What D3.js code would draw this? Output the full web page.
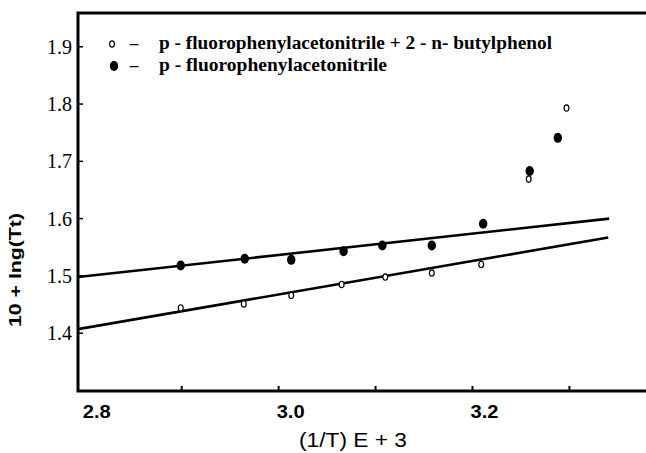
<!DOCTYPE HTML>
<html>
<head>
<meta charset="utf-8">
<title>lng(Tt) vs 1/T</title>
<script src="https://d3js.org/d3.v7.min.js"></script>
<style>
  body { margin: 0; background: #ffffff; }
</style>
</head>

<body>
<script>

"use strict";

// p-fluorophenylacetonitrile (filled)
const pureX = [2.899, 2.965, 3.013, 3.067, 3.107, 3.158, 3.211, 3.259, 3.288];
const pureY = [1.518, 1.530, 1.528, 1.543, 1.553, 1.553, 1.591, 1.683, 1.741];

// p-fluorophenylacetonitrile + 2-n-butylphenol (open)
const mixX = [2.899, 2.964, 3.013, 3.065, 3.110, 3.158, 3.209, 3.258, 3.297];
const mixY = [1.444, 1.451, 1.466, 1.485, 1.498, 1.505, 1.520, 1.669, 1.793];

// fitted lines, end points [x, y]
const pureFit = [[2.793, 1.498], [3.341, 1.600]];
const mixFit = [[2.793, 1.407], [3.340, 1.567]];

const xTicks = [2.8, 2.9, 3.0, 3.1, 3.2, 3.3];
const xLabels = ["2.8", "", "3.0", "", "3.2", ""];
const yTicks = [1.4, 1.5, 1.6, 1.7, 1.8, 1.9];
const yLabels = ["1.4", "1.5", "1.6", "1.7", "1.8", "1.9"];

const legendText = [
  "p - fluorophenylacetonitrile + 2 - n- butylphenol",
  "p - fluorophenylacetonitrile"
];

const W = 646, H = 453;
const plotL = 78, plotT = 13, plotB = 391, plotR = 646;

const svg = d3.select("body").append("svg")
  .attr("width", W)
  .attr("height", H);

const x = d3.scaleLinear().domain([2.793, 3.379]).range([plotL, plotR]);
const y = d3.scaleLinear().domain([1.299, 1.959]).range([plotB, plotT]);

// frame: left, top, bottom
svg.append("path")
  .attr("d", "M" + plotR + "," + plotT + "H" + plotL + "V" + plotB + "H" + plotR)
  .attr("fill", "none")
  .attr("stroke", "#000000")
  .attr("stroke-width", 3);

// x ticks (inward)
svg.append("g").selectAll("line")
  .data(xTicks.slice(1))
  .enter()
  .append("line")
  .attr("x1", (d) => x(d))
  .attr("x2", (d) => x(d))
  .attr("y1", plotB)
  .attr("y2", plotB - 5)
  .attr("stroke", "#000000")
  .attr("stroke-width", 2);

svg.append("g").selectAll("text")
  .data(xTicks.filter((d, i) => xLabels[i]))
  .enter()
  .append("text")
  .attr("x", (d) => x(d) - 2)
  .attr("y", plotB + 27)
  .attr("font-family", "Liberation Sans, Arial, sans-serif")
  .attr("font-size", 18)
  .attr("font-weight", "bold")
  .attr("fill", "#000000")
  .attr("textLength", 28)
  .attr("lengthAdjust", "spacingAndGlyphs")
  .text((d) => xLabels[xTicks.indexOf(d)]);

// y ticks (inward)
svg.append("g").selectAll("line")
  .data(yTicks)
  .enter()
  .append("line")
  .attr("x1", plotL)
  .attr("x2", plotL + 5)
  .attr("y1", (d) => y(d))
  .attr("y2", (d) => y(d))
  .attr("stroke", "#000000")
  .attr("stroke-width", 1.5);

svg.append("g").selectAll("text")
  .data(yTicks)
  .enter()
  .append("text")
  .attr("x", plotL - 6)
  .attr("y", (d) => y(d) + 7)
  .attr("text-anchor", "end")
  .attr("font-family", "Liberation Serif, Times New Roman, serif")
  .attr("font-size", 20)
  .attr("fill", "#000000")
  .text((d, i) => yLabels[i]);

// axis titles
svg.append("text")
  .attr("x", 353)
  .attr("y", 447)
  .attr("text-anchor", "middle")
  .attr("font-family", "Liberation Sans, Arial, sans-serif")
  .attr("font-size", 21)
  .attr("fill", "#000000")
  .attr("textLength", 108)
  .attr("lengthAdjust", "spacingAndGlyphs")
  .text("(1/T) E + 3");

svg.append("text")
  .attr("transform", "translate(21, 270) rotate(-90)")
  .attr("text-anchor", "middle")
  .attr("font-family", "Liberation Sans, Arial, sans-serif")
  .attr("font-size", 17)
  .attr("font-weight", "bold")
  .attr("fill", "#000000")
  .attr("textLength", 114)
  .attr("lengthAdjust", "spacingAndGlyphs")
  .text("10 + lng(Tt)");

// fitted lines
const line = d3.line().x((d) => x(d[0])).y((d) => y(d[1]));
for (let fit of [pureFit, mixFit]) {
  svg.append("path")
    .attr("d", line(fit))
    .attr("fill", "none")
    .attr("stroke", "#000000")
    .attr("stroke-width", 2.6);
}

// points
svg.append("g").selectAll("ellipse")
  .data(pureX.map((d, i) => [d, pureY[i]]))
  .enter()
  .append("ellipse")
  .attr("cx", (d) => x(d[0]))
  .attr("cy", (d) => y(d[1]))
  .attr("rx", 4.2)
  .attr("ry", 5)
  .attr("fill", "#000000");

svg.append("g").selectAll("ellipse")
  .data(mixX.map((d, i) => [d, mixY[i]]))
  .enter()
  .append("ellipse")
  .attr("cx", (d) => x(d[0]))
  .attr("cy", (d) => y(d[1]))
  .attr("rx", 2.4)
  .attr("ry", 3.2)
  .attr("fill", "#ffffff")
  .attr("stroke", "#000000")
  .attr("stroke-width", 1.2);

// legend
const legend = svg.append("g");
legend.append("ellipse")
  .attr("cx", 112).attr("cy", 44)
  .attr("rx", 2.4).attr("ry", 3.2)
  .attr("fill", "#ffffff")
  .attr("stroke", "#000000")
  .attr("stroke-width", 1.2);
legend.append("ellipse")
  .attr("cx", 114).attr("cy", 66)
  .attr("rx", 4.2).attr("ry", 5)
  .attr("fill", "#000000");

legend.selectAll("text.dash")
  .data([44, 66])
  .enter()
  .append("text")
  .attr("class", "dash")
  .attr("x", 134)
  .attr("y", (d) => d + 5)
  .attr("text-anchor", "middle")
  .attr("font-family", "Liberation Serif, Times New Roman, serif")
  .attr("font-size", 17)
  .attr("font-weight", "bold")
  .text("\u2013");

legend.selectAll("text.label")
  .data(legendText)
  .enter()
  .append("text")
  .attr("class", "label")
  .attr("x", 159)
  .attr("y", (d, i) => 49 + i * 22)
  .attr("font-family", "Liberation Serif, Times New Roman, serif")
  .attr("font-size", 18)
  .attr("font-weight", "bold")
  .attr("textLength", (d, i) => i === 0 ? 393 : 228)
  .attr("lengthAdjust", "spacingAndGlyphs")
  .text((d) => d);

</script>
</body>
</html>
